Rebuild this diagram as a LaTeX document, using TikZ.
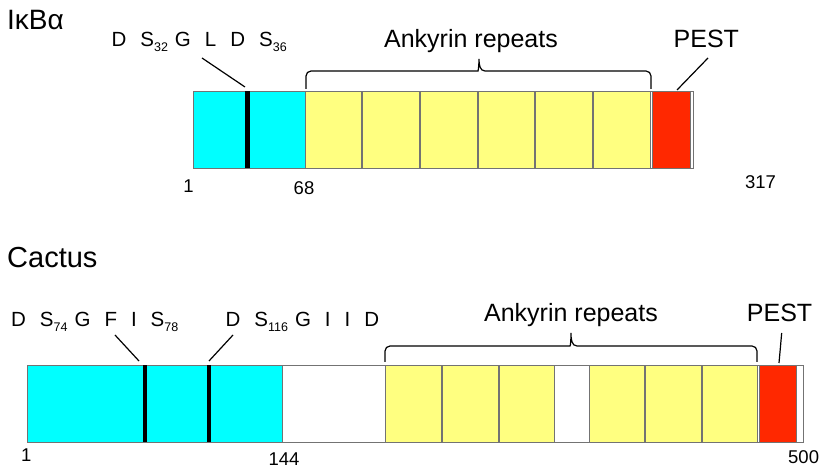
\documentclass[tikz,border=0pt]{standalone}
\usepackage{fontspec}
\setmainfont{Liberation Sans}
\usetikzlibrary{calc}
\definecolor{domcyan}{RGB}{0,255,255}
\definecolor{ankyellow}{RGB}{255,255,128}
\definecolor{pestred}{RGB}{255,40,0}
\newcommand{\subn}[1]{\raisebox{-5pt}{\fontsize{12.5}{12.5}\selectfont #1}}
\newcommand{\rgap}{\hspace{14pt}}
\newcommand{\sgap}{\hspace{7pt}}

\begin{document}
\begin{tikzpicture}[x=1pt,y=-1pt,
  outline/.style={draw=black!55,line width=0.8pt},
  repbox/.style={draw=black!55,line width=0.7pt,fill=ankyellow},
  bar/.style={fill=black},
  tick/.style={line width=1.2pt},
  brc/.style={line width=1.2pt},
  title/.style={anchor=base west,inner sep=0pt},
  seq/.style={anchor=base west,inner sep=0pt,font=\fontsize{20.5}{20.5}\selectfont},
  big/.style={inner sep=0pt,font=\fontsize{25}{25}\selectfont},
  num/.style={inner sep=0pt,font=\fontsize{18.5}{18.5}\selectfont}]
\useasboundingbox (0,0) rectangle (820,470);

\node[title,font=\fontsize{28}{28}\selectfont] (ikbtitle) at (7,30) {IκBα};
\draw[outline,fill=white] (193,91) rectangle (693,168);
\draw[outline,fill=domcyan] (193,91) rectangle (305,168);
\fill[gray!35] (305,91) rectangle (651,168);
\foreach \a/\b in {305/362,362/420,420/478,478/535,535/593,593/651}
  \draw[repbox] (\a+0.8,91) rectangle (\b-0.8,168);
\draw[outline,fill=pestred] (652,91) rectangle (690,168);
\draw[outline] (193,91) rectangle (693,168);
\fill[bar] (245,91) rectangle (250,168);
\node[seq] (ikbmotif) at (111.4,46.7) {D\rgap S\subn{32}\sgap G\rgap L\rgap D\rgap S\subn{36}};
\coordinate (ikbtag) at (202,58);
\coordinate (ikbsite) at (245,87);
\draw[tick] (ikbtag) -- (ikbsite);
\coordinate (ikbrepL) at (306,89);
\coordinate (ikbrepR) at (651,89);
\coordinate (ikbtip) at (479,59);
\draw[brc] (ikbrepL) [rounded corners=5pt] |- ($(ikbtip)+(-6,12)$) [sharp corners] to[out=0,in=-90] (ikbtip) to[out=-90,in=180] ($(ikbtip)+(6,12)$) [rounded corners=5pt] -| (ikbrepR);
\node[big,anchor=base] (ikbank) at (471,48) {Ankyrin repeats};
\node[big,anchor=base west] (ikbpest) at (673.5,47.3) {PEST};
\coordinate (ikbpesttag) at (708,58);
\coordinate (ikbpestsite) at (677,90);
\draw[tick] (ikbpesttag) -- (ikbpestsite);
\node[num] (ikbfirst) at (188.5,186) {1};
\node[num] (ikbcut) at (304,188.5) {68};
\node[num] (ikblast) at (760.5,182.5) {317};

\node[title,font=\fontsize{29}{29}\selectfont] (cactitle) at (7,268) {Cactus};
\draw[outline,fill=white] (27,365.5) rectangle (803,442);
\draw[outline,fill=domcyan] (27,365.5) rectangle (282,442);
\fill[gray!35] (385,365.5) rectangle (555,442);
\fill[gray!35] (589,365.5) rectangle (758,442);
\foreach \a/\b in {385/442,442/499,499/555,589/645,645/702,702/758}
  \draw[repbox] (\a+0.8,365.5) rectangle (\b-0.8,442);
\draw[outline,fill=pestred] (759.5,365.5) rectangle (796.5,442);
\draw[outline] (27,365.5) rectangle (803,442);
\fill[bar] (143.3,365.5) rectangle (147.3,442);
\fill[bar] (206.7,365.5) rectangle (210.7,442);
\node[seq] (cacmotifA) at (11,326.7) {D\rgap S\subn{74}\sgap G\rgap F\rgap I\rgap S\subn{78}};
\node[seq] (cacmotifB) at (225.4,326.7) {D\rgap S\subn{116}\sgap G\rgap I\rgap I\rgap D};
\coordinate (cactagA) at (115,335);
\coordinate (cacsiteA) at (139,361);
\coordinate (cactagB) at (233,335);
\coordinate (cacsiteB) at (209,361);
\draw[tick] (cactagA) -- (cacsiteA);
\draw[tick] (cactagB) -- (cacsiteB);
\coordinate (cacrepL) at (385,362);
\coordinate (cacrepR) at (757,362);
\coordinate (cactip) at (571,333);
\draw[brc] (cacrepL) [rounded corners=5pt] |- ($(cactip)+(-6,13)$) [sharp corners] to[out=0,in=-90] (cactip) to[out=-90,in=180] ($(cactip)+(6,13)$) [rounded corners=5pt] -| (cacrepR);
\node[big,anchor=base] (cacank) at (571,321.7) {Ankyrin repeats};
\node[big,anchor=base west] (cacpest) at (746.7,321.7) {PEST};
\coordinate (cacpesttag) at (781.7,333);
\coordinate (cacpestsite) at (779,363);
\draw[tick] (cacpesttag) -- (cacpestsite);
\node[num] (cacfirst) at (26.3,455) {1};
\node[num] (caccut) at (284,459.5) {144};
\node[num,anchor=west] (caclast) at (788,457) {500};
\end{tikzpicture}
\end{document}
